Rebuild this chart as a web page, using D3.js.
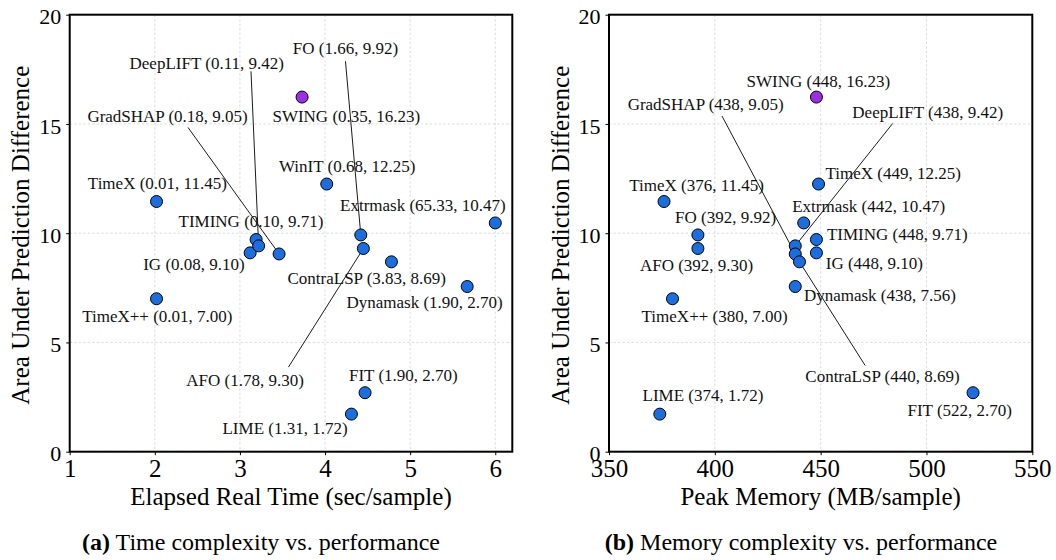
<!DOCTYPE html>
<html>
<head>
<meta charset="utf-8">
<script src="https://cdn.jsdelivr.net/npm/d3@7"></script>
<style>
  body { margin: 0; background: #fff; }
  svg { display: block; font-family: "Liberation Serif", "Times New Roman", serif; }
</style>
</head>
<body>
<svg id="chart" width="1056" height="560"></svg>
<script>
// ---------- data ----------
const methods = ["TimeX", "TimeX++", "IG", "TIMING", "DeepLIFT", "GradSHAP", "SWING", "WinIT",
                 "LIME", "FO", "AFO", "FIT", "ContraLSP", "Dynamask", "Extrmask"];
const aupd = [11.45, 7.00, 9.10, 9.71, 9.42, 9.05, 16.23, 12.25, 1.72, 9.92, 9.30, 2.70, 8.69, 7.56, 10.47];
// plotted x position on the time axis
const timeAxisPos = [2.02, 2.02, 3.12, 3.19, 3.22, 3.46, 3.73, 4.02, 4.31, 4.42, 4.45, 4.47, 4.78, 5.67, 6.00];
// labels as printed in panel (a)
const timeLabels = ["TimeX (0.01, 11.45)", "TimeX++ (0.01, 7.00)", "IG (0.08, 9.10)", "TIMING (0.10, 9.71)",
  "DeepLIFT (0.11, 9.42)", "GradSHAP (0.18, 9.05)", "SWING (0.35, 16.23)", "WinIT (0.68, 12.25)",
  "LIME (1.31, 1.72)", "FO (1.66, 9.92)", "AFO (1.78, 9.30)", "FIT (1.90, 2.70)",
  "ContraLSP (3.83, 8.69)", "Dynamask (1.90, 2.70)", "Extrmask (65.33, 10.47)"];
// memory in MB/sample (panel b)
const memory = [376, 380, 448, 448, 438, 438, 448, 449, 374, 392, 392, 522, 440, 438, 442];
const memLabelNames = ["TimeX", "TimeX++", "IG", "TIMING", "DeepLIFT", "GradSHAP", "SWING", "TimeX",
  "LIME", "FO", "AFO", "FIT", "ContraLSP", "Dynamask", "Extrmask"];
const memAupd = [11.45, 7.00, 9.10, 9.71, 9.42, 9.05, 16.23, 12.25, 1.72, 9.92, 9.30, 2.70, 8.69, 7.56, 10.47];
const highlight = "SWING";

const timeTicks = [1, 2, 3, 4, 5, 6];
const memTicks = [350, 400, 450, 500, 550];
const yTicks = [0, 5, 10, 15, 20];

// label anchor positions (data coords, text centre / baseline)
const timeLabelPos = [[2.03, 12.01], [2.03, 5.93], [2.46, 8.32], [3.13, 10.30], [2.61, 17.53], [2.15, 15.10],
  [4.25, 15.10], [4.26, 12.82], [3.53, 0.82], [4.24, 18.22], [3.06, 3.00], [4.92, 3.23], [4.49, 7.68],
  [5.17, 6.59], [5.15, 11.03]];
const memLabelPos = [[391.4, 11.95], [399.9, 5.93], [475.4, 8.34], [486.2, 9.67], [500.6, 15.25], [395.7, 15.63],
  [448.9, 16.67], [484.3, 12.48], [394.4, 2.32], [405.1, 10.46], [391.4, 8.26], [515.7, 1.63], [479.2, 3.19],
  [478.0, 6.89], [472.7, 10.99]];
// leader lines: [index, startX, startY]
const timeLeaders = [[9, 4.24, 17.87], [4, 3.13, 17.41], [5, 2.39, 14.84], [10, 3.57, 3.87]];
const memLeaders = [[5, 403.4, 15.36], [4, 484.0, 15.02], [12, 471.0, 3.95]];

// ---------- drawing ----------
const svg = d3.select("#chart");
const plotTop = 14.7, plotBottom = 451.7;
const FONT = "'Liberation Serif', 'Times New Roman', serif";

function panel(opts) {
  const g = svg.append("g");
  const x = d3.scaleLinear().domain(opts.xDomain).range([opts.left, opts.right]);
  const y = d3.scaleLinear().domain([0, 20]).range([plotBottom, plotTop]);

  // grid
  g.append("g").selectAll("line").data(opts.xTicks).join("line")
    .attr("x1", d => x(d)).attr("x2", d => x(d)).attr("y1", plotTop).attr("y2", plotBottom)
    .attr("stroke", "#cfcfcf").attr("stroke-width", 0.7).attr("stroke-dasharray", "2.5,2");
  g.append("g").selectAll("line").data(yTicks).join("line")
    .attr("x1", opts.left).attr("x2", opts.right).attr("y1", d => y(d)).attr("y2", d => y(d))
    .attr("stroke", "#cfcfcf").attr("stroke-width", 0.7).attr("stroke-dasharray", "2.5,2");

  // axes
  const xa = g.append("g").attr("transform", `translate(0,${plotBottom})`)
    .call(d3.axisBottom(x).tickValues(opts.xTicks).tickSize(3.5).tickFormat(d3.format("d")));
  const ya = g.append("g").attr("transform", `translate(${opts.left},0)`)
    .call(d3.axisLeft(y).tickValues(yTicks).tickSize(3.5).tickPadding(5).tickFormat(d3.format("d")));
  [xa, ya].forEach(a => {
    a.attr("font-family", FONT);
    a.select(".domain").remove();
    a.selectAll("text").attr("fill", "#000").style("font-family", FONT);
    a.selectAll("line").attr("stroke", "#000").attr("stroke-width", 1);
  });
  xa.selectAll("text").attr("font-size", 25).attr("y", 25.5).attr("dy", 0);
  ya.selectAll("text").attr("font-size", 22).attr("dy", "0.42em");

  // leader lines
  g.append("g").selectAll("line").data(opts.leaders).join("line")
    .attr("x1", d => x(d[1])).attr("y1", d => y(d[2]))
    .attr("x2", d => x(opts.xs[d[0]])).attr("y2", d => y(opts.ys[d[0]]))
    .attr("stroke", "#000").attr("stroke-width", 0.9);

  // points
  g.append("g").selectAll("circle").data(opts.xs).join("circle")
    .attr("cx", d => x(d)).attr("cy", (d, i) => y(opts.ys[i])).attr("r", 6)
    .attr("fill", (d, i) => methods[i] === highlight ? "#9a2fe6" : "#1a6ee0")
    .attr("stroke", "#000").attr("stroke-width", 1);

  // labels
  g.append("g").selectAll("text").data(opts.labels).join("text")
    .attr("x", (d, i) => x(opts.labelPos[i][0])).attr("y", (d, i) => y(opts.labelPos[i][1]))
    .attr("text-anchor", "middle").attr("font-size", 17).attr("fill", "#111")
    .text(d => d);

  // frame
  g.append("rect").attr("x", opts.left).attr("y", plotTop)
    .attr("width", opts.right - opts.left).attr("height", plotBottom - plotTop)
    .attr("fill", "none").attr("stroke", "#000").attr("stroke-width", 2);

  // axis titles
  g.append("text").attr("x", (opts.left + opts.right) / 2).attr("y", 505)
    .attr("text-anchor", "middle").attr("font-size", 25).text(opts.xTitle);
  g.append("text").attr("transform", `translate(${opts.left - 40.5},${(plotTop + plotBottom) / 2 + 2}) rotate(-90)`)
    .attr("text-anchor", "middle").attr("font-size", 25).text("Area Under Prediction Difference");

  // caption
  const cap = g.append("text").attr("x", opts.capX).attr("y", 550)
    .attr("text-anchor", "middle").attr("font-size", 24);
  cap.append("tspan").attr("font-weight", "bold").text(opts.capTag);
  cap.append("tspan").text(" " + opts.caption);
}

panel({
  left: 69.7, right: 512.3, xDomain: [1, 6.2], xTicks: timeTicks,
  xs: timeAxisPos, ys: aupd, labels: timeLabels, labelPos: timeLabelPos, leaders: timeLeaders,
  xTitle: "Elapsed Real Time (sec/sample)", capX: 261, capTag: "(a)", caption: "Time complexity vs. performance"
});
panel({
  left: 609, right: 1032.3, xDomain: [350, 550], xTicks: memTicks,
  xs: memory, ys: memAupd,
  labels: memLabelNames.map((n, i) => `${n} (${memory[i]}, ${memAupd[i].toFixed(2)})`),
  labelPos: memLabelPos, leaders: memLeaders,
  xTitle: "Peak Memory (MB/sample)", capX: 801, capTag: "(b)", caption: "Memory complexity vs. performance"
});
</script>
</body>
</html>
